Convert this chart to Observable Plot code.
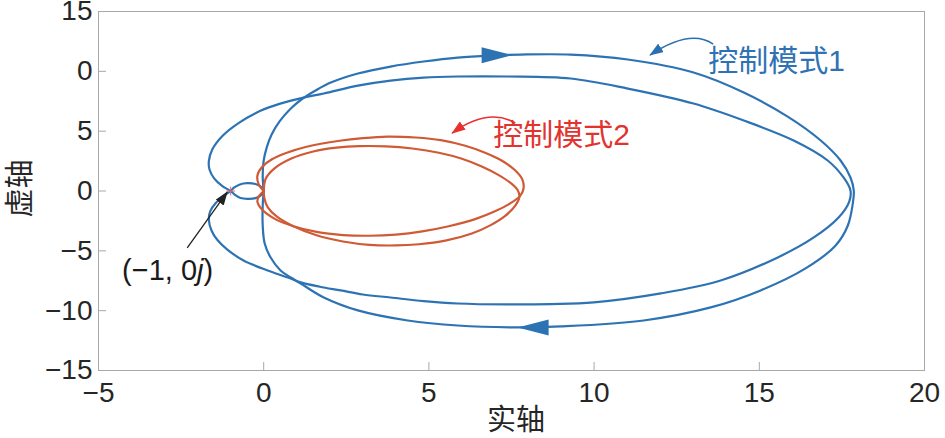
<!DOCTYPE html>
<html><head><meta charset="utf-8">
<script src="https://cdn.jsdelivr.net/npm/d3@7"></script>
<script src="https://cdn.jsdelivr.net/npm/@observablehq/plot@0.6"></script>
<style>
html,body{margin:0;padding:0;background:#fff;}
#chart{width:945px;height:438px;overflow:hidden;}
svg{display:block;}
</style></head><body><div id="chart"></div>
<script>
// ---- axis ticks ----
const xTicks = [-5, 0, 5, 10, 15, 20];
const xTickLabels = ["−5", "0", "5", "10", "15", "20"];
const yTicks = [-15, -10, -5, 0, 5, 10, 15];
const yTickLabels = ["−15", "−10", "−5", "0", "5", "0", "15"];

// ---- 控制模式1 (blue): outer loop ----
const blueOuterX = [0,-0.03,0,0.09,0.24,0.48,0.82,1.18,1.57,2.03,2.85,3.84,4.84,5.87,6.87,7.78,9.29,11.02,13.01,14.53,15.86,16.86,17.46,17.76,17.86,17.83,17.68,17.31,16.4,15.04,13.53,11.5,8.99,7.78,5.87,4.36,2.85,1.82,1.12,0.82,0.51,0.21,0.03,-0.03,-0.03,0];
const blueOuterY = [0,1.3,2.55,3.63,4.72,5.81,6.89,7.73,8.4,9.06,9.82,10.4,10.82,11.15,11.32,11.4,11.4,10.99,9.9,8.23,6.22,4.22,2.55,1.13,0.04,-1.04,-2.88,-4.55,-6.47,-8.31,-9.73,-10.82,-11.32,-11.4,-11.24,-10.82,-9.98,-8.9,-7.73,-7.23,-6.64,-5.56,-4.39,-2.88,-1.21,0];
// ---- 控制模式1 (blue): inner loop with the small loop through (−1, 0j) ----
const blueInnerX = [0,-0.08,-0.25,-0.5,-0.72,-0.9,-1,-1.2,-1.45,-1.62,-1.66,-1.58,-1.4,-1.1,-0.61,0.12,0.73,1.12,1.7,2.33,3.0,3.84,4.84,5.87,7.38,8.7,9.99,12.02,13.83,15.56,16.65,17.4,17.72,17.76,17.55,17.07,16.04,14.53,13.01,11.02,9.29,7.38,5.87,4.84,3.84,2.85,1.82,1.2,0.5,-0.1,-0.75,-1.25,-1.55,-1.66,-1.64,-1.5,-1.25,-1,-0.88,-0.7,-0.5,-0.25,-0.08,0];
const blueInnerY = [0,0.35,0.58,0.65,0.55,0.28,0,-0.4,-1.0,-1.7,-2.4,-3.3,-4.1,-4.9,-5.81,-6.64,-7.23,-7.64,-8.0,-8.31,-8.65,-8.9,-9.2,-9.4,-9.48,-9.45,-9.31,-8.56,-7.48,-5.55,-3.88,-2.21,-0.9,0.04,1.13,2.55,4.22,5.89,7.31,8.56,9.4,9.57,9.57,9.48,9.23,8.81,8.15,7.8,7.3,6.7,5.7,4.6,3.5,2.5,1.8,1.05,0.4,0,-0.3,-0.58,-0.65,-0.6,-0.35,0];

// ---- 控制模式2 (red): two loops ----
const redAX = [0,-0.15,-0.19,-0.05,0.25,0.7,1.3,2.3,3.0,3.74,4.6,5.36,6.1,6.7,7.2,7.6,7.83,7.86,7.75,7.45,7.0,6.4,5.6,4.8,4.0,3.2,2.4,1.6,0.9,0.35,-0.05,-0.19,-0.15,0];
const redAY = [0,0.55,1.3,2.0,2.65,3.2,3.7,4.2,4.42,4.55,4.47,4.25,3.78,3.2,2.55,1.75,0.95,0.15,-0.45,-1.05,-1.7,-2.35,-2.95,-3.38,-3.65,-3.74,-3.68,-3.42,-2.95,-2.35,-1.55,-0.9,-0.45,0];
const redBX = [0,0.06,0.31,0.82,1.5,2.2,2.9,3.7,4.5,5.3,6.0,6.6,7.1,7.45,7.68,7.74,7.62,7.3,6.87,6.3,5.5,4.7,4.0,3.2,2.4,1.6,0.9,0.4,0.12,0.02,0];
const redBY = [0,1.02,1.85,2.69,3.3,3.62,3.75,3.73,3.55,3.2,2.7,2.05,1.35,0.72,0.1,-0.45,-1.2,-2.1,-2.85,-3.55,-4.15,-4.45,-4.55,-4.5,-4.22,-3.7,-2.95,-2.15,-1.35,-0.6,0];

// ---- direction arrows on the blue curve ----
const flowX = [7.05, 8.17];
const flowY = [11.35, -11.4];
const flowAngle = [0, 180];

// ---- annotations ----
const criticalX = [-1], criticalY = [0];
const labelTexts = ["控制模式1", "控制模式2"];
const labelX = [13.47, 6.96];
const labelY = [10.9, 4.64];
const pointerStart = [[13.62, 12.24], [7.63, 5.64]];
const pointerCtrl = [[12.92, 13.55], [6.81, 6.95]];
const pointerEnd = [[11.71, 11.32], [5.72, 4.80]];
const critLabelX = -4.27, critLabelY = -6.64;
const critArrowStart = [-2.30, -4.80], critArrowEnd = [-1.09, -0.13];

const rows = (xs, ys) => xs.map((x, i) => ({x, y: ys[i]}));

const W = 945, H = 438, mL = 98, mR = 21, mT = 11, mB = 68;
const BLUE = "#2d73b4", RED = "#cf5a34", GRID = "#a8a8a8";
const xLab = new Map(xTicks.map((t, i) => [t, xTickLabels[i]]));
const yLab = new Map(yTicks.map((t, i) => [t, yTickLabels[i]]));

const arrowSymbol = {draw(ctx) { ctx.moveTo(16, 0); ctx.lineTo(-15, -8); ctx.lineTo(-15, 8); ctx.closePath(); }};
const CURVE = "catmull-rom";

const plot = Plot.plot({
  width: W, height: H,
  marginLeft: mL, marginRight: mR, marginTop: mT, marginBottom: mB,
  style: {fontFamily: "'Liberation Sans', Arial, sans-serif", background: "#fff", color: "#262626", overflow: "visible"},
  x: {domain: [-5, 20]},
  y: {domain: [-15, 15]},
  marks: [
    Plot.ruleX(xTicks, {stroke: GRID, insetTop: H - mT - mB - 8}),
    Plot.ruleY(yTicks, {stroke: GRID, insetRight: W - mL - mR - 8}),
    Plot.frame({stroke: GRID, strokeWidth: 1}),
    Plot.axisX({ticks: xTicks, tickSize: 0, tickPadding: 12, tickFormat: d => xLab.get(d), fontSize: 28, label: null}),
    Plot.axisY({ticks: yTicks, tickSize: 0, tickPadding: 6, tickFormat: d => yLab.get(d), fontSize: 28, label: null}),
    Plot.line(rows(blueOuterX, blueOuterY), {x: "x", y: "y", stroke: BLUE, strokeWidth: 2.2, curve: CURVE}),
    Plot.line(rows(blueInnerX, blueInnerY), {x: "x", y: "y", stroke: BLUE, strokeWidth: 2.2, curve: CURVE}),
    Plot.line(rows(redAX, redAY), {x: "x", y: "y", stroke: RED, strokeWidth: 2.2, curve: CURVE}),
    Plot.line(rows(redBX, redBY), {x: "x", y: "y", stroke: RED, strokeWidth: 2.2, curve: CURVE}),
    Plot.dot(flowX.map((x, i) => ({x, y: flowY[i], a: flowAngle[i]})), {x: "x", y: "y", rotate: "a", symbol: arrowSymbol, fill: BLUE, stroke: null, r: 10}),
    Plot.dot(rows(criticalX, criticalY), {x: "x", y: "y", symbol: "plus", r: 3, stroke: "#e86a6a", strokeWidth: 1})
  ]
});
document.getElementById("chart").appendChild(plot);

const svg = d3.select(plot);
const sx = plot.scale("x"), sy = plot.scale("y");
const px = v => sx.apply(v), py = v => sy.apply(v);

const defs = svg.append("defs");
function marker(id, color) {
  defs.append("marker").attr("id", id).attr("markerUnits", "userSpaceOnUse")
    .attr("viewBox", "0 0 14 10").attr("refX", 13).attr("refY", 5)
    .attr("markerWidth", 14).attr("markerHeight", 10).attr("orient", "auto")
    .append("path").attr("d", "M0,0 L14,5 L0,10 Z").attr("fill", color);
}
marker("mBlue", "#2a6fb2");
marker("mRed", "#e8302f");
marker("mBlack", "#222");

const labelColors = ["#2f72b3", "#e2332f"];
const pointerColors = ["#2a6fb2", "#e8302f"];
const pointerMarkers = ["mBlue", "mRed"];
const g = svg.append("g").attr("text-anchor", "start");
labelTexts.forEach((t, i) => {
  g.append("text").attr("x", px(labelX[i])).attr("y", py(labelY[i]))
    .attr("text-anchor", "start")
    .attr("dominant-baseline", "central").attr("font-size", 30)
    .attr("font-family", "'Liberation Sans', 'Noto Sans CJK SC', sans-serif")
    .attr("fill", labelColors[i]).text(t);
  const p = d3.path();
  p.moveTo(px(pointerStart[i][0]), py(pointerStart[i][1]));
  p.quadraticCurveTo(px(pointerCtrl[i][0]), py(pointerCtrl[i][1]), px(pointerEnd[i][0]), py(pointerEnd[i][1]));
  g.append("path").attr("d", p.toString()).attr("fill", "none")
    .attr("stroke", pointerColors[i]).attr("stroke-width", 1.5)
    .attr("marker-end", `url(#${pointerMarkers[i]})`);
});

g.append("line").attr("x1", px(critArrowStart[0])).attr("y1", py(critArrowStart[1]))
  .attr("x2", px(critArrowEnd[0])).attr("y2", py(critArrowEnd[1]))
  .attr("stroke", "#222").attr("stroke-width", 1.3).attr("marker-end", "url(#mBlack)");

const ct = g.append("text").attr("x", px(critLabelX)).attr("y", py(critLabelY))
  .attr("text-anchor", "start")
  .attr("dominant-baseline", "central").attr("font-size", 29)
  .attr("font-family", "'Liberation Sans', Arial, sans-serif").attr("fill", "#1a1a1a");
ct.append("tspan").text("(−1, 0");
ct.append("tspan").attr("font-style", "italic").text("j");
ct.append("tspan").text(")");

// axis titles
g.append("text").attr("x", mL + (W - mL - mR) / 2 + 5).attr("y", H - 21)
  .attr("text-anchor", "middle").attr("dominant-baseline", "central")
  .attr("font-size", 29).attr("font-family", "'Noto Sans CJK SC', sans-serif")
  .attr("fill", "#262626").text("实轴");
g.append("text").attr("transform", `translate(17, ${mT + (H - mT - mB) / 2 - 2}) rotate(-90)`)
  .attr("text-anchor", "middle").attr("dominant-baseline", "central")
  .attr("font-size", 29).attr("font-family", "'Noto Sans CJK SC', sans-serif")
  .attr("fill", "#262626").text("虚轴");
</script>
</body></html>
